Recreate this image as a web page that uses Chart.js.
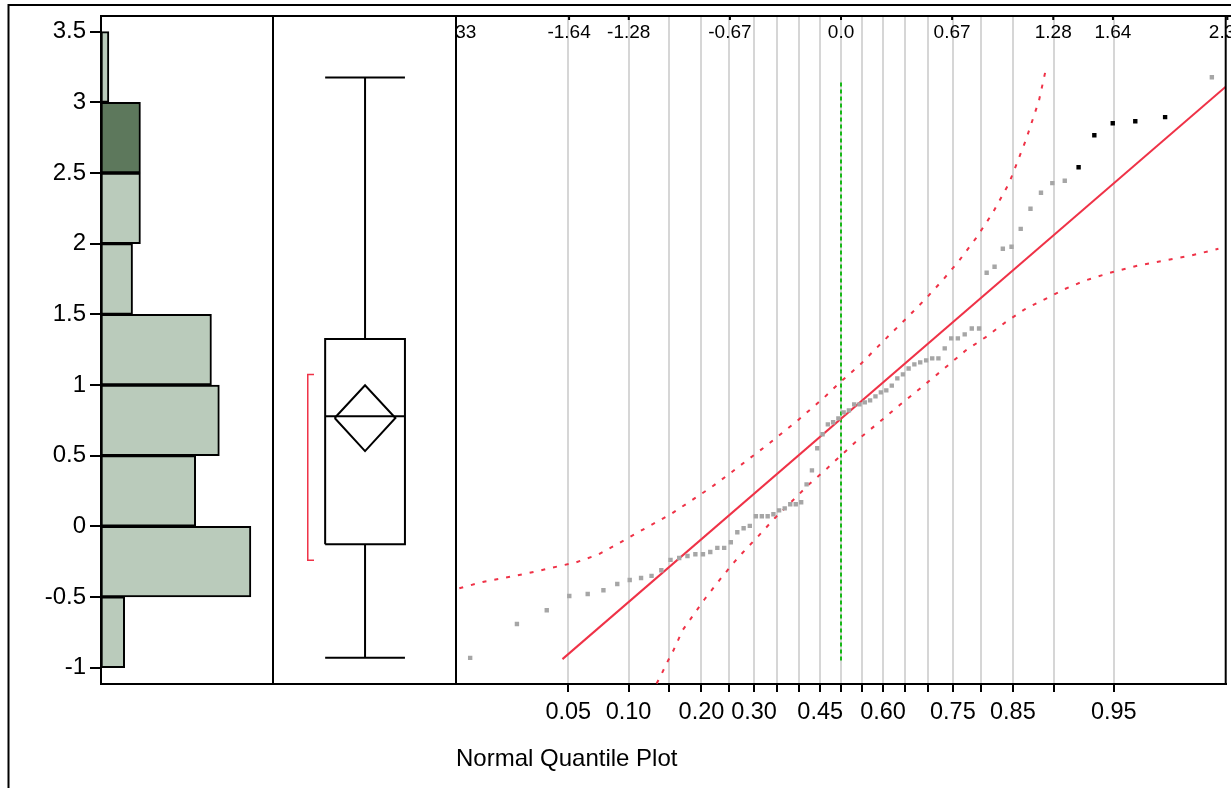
<!DOCTYPE html>
<html>
<head>
<meta charset="utf-8">
<script src="https://cdn.jsdelivr.net/npm/chart.js@4/dist/chart.umd.min.js"></script>
<style>
  html, body { margin: 0; padding: 0; background: #fff; overflow: hidden; }
  #wrap { position: relative; width: 1231px; height: 788px; }
</style>
</head>
<body>
<div id="wrap"><canvas id="dist" width="1231" height="788"></canvas></div>
<script>
// Histogram (value axis is vertical)
const binCenters = [-0.75, -0.25, 0.25, 0.75, 1.25, 1.75, 2.25, 2.75, 3.25];
const binCounts = [3, 19, 12, 15, 14, 4, 5, 5, 1];
const selectedBin = [2.5, 3.0];
const yTicks = [-1, -0.5, 0, 0.5, 1, 1.5, 2, 2.5, 3, 3.5];

// Outlier box plot
const whiskerEnds = [-0.931, 3.175];
const quartiles = [-0.127, 0.778, 1.325];      // Q1, median, Q3
const meanDiamond = [0.532, 0.766, 0.998];     // lower CI, mean, upper CI
const shortestHalf = [-0.240, 1.075];

// Normal quantile plot
const sortedValues = [
  -0.931, -0.691, -0.594, -0.493, -0.479, -0.453, -0.408, -0.380, -0.366, -0.351,
  -0.311, -0.238, -0.224, -0.210, -0.198, -0.198, -0.182, -0.153, -0.153, -0.113,
  -0.042, -0.014, 0.003, 0.071, 0.071, 0.071, 0.085, 0.113, 0.127, 0.156,
  0.156, 0.170, 0.297, 0.396, 0.552, 0.651, 0.721, 0.736, 0.764, 0.806,
  0.820, 0.863, 0.863, 0.877, 0.891, 0.919, 0.948, 0.962, 0.995, 1.047,
  1.075, 1.117, 1.146, 1.160, 1.174, 1.188, 1.188, 1.259, 1.330, 1.330,
  1.358, 1.400, 1.400, 1.794, 1.837, 1.964, 1.978, 2.105, 2.247, 2.360,
  2.428, 2.445, 2.541, 2.767, 2.852, 2.866, 2.895, 3.178
];
const probTicks = [0.05, 0.10, 0.15, 0.20, 0.25, 0.30, 0.35, 0.40, 0.45, 0.50,
  0.55, 0.60, 0.65, 0.70, 0.75, 0.80, 0.85, 0.90, 0.95];
const probLabels = ['0.05', '0.10', '0.20', '0.30', '0.45', '0.60', '0.75', '0.85', '0.95'];
const quantileTicks = [-2.33, -1.64, -1.28, -0.67, 0, 0.67, 1.28, 1.64, 2.33];
const quantileLabels = ['-2.33', '-1.64', '-1.28', '-0.67', '0.0', '0.67', '1.28', '1.64', '2.33'];
const fitLine = [[-1.68, -0.94], [2.32, 3.11]];
const centerLine = [[0, -0.95], [0, 3.16]];
const upperBand = [
  [-2.302, -0.438], [-2.161, -0.394], [-2.020, -0.363], [-1.880, -0.330], [-1.739, -0.292],
  [-1.598, -0.255], [-1.461, -0.198], [-1.337, -0.118], [-1.220, -0.040], [-1.021, 0.090],
  [-0.900, 0.184], [-0.780, 0.278], [-0.663, 0.380], [-0.549, 0.483], [-0.434, 0.585],
  [-0.321, 0.693], [-0.265, 0.745], [-0.099, 0.914], [0.0, 1.025], [0.111, 1.139],
  [0.212, 1.259], [0.310, 1.374], [0.412, 1.492], [0.512, 1.612], [0.612, 1.740],
  [0.713, 1.881], [0.813, 2.037], [0.913, 2.214], [1.013, 2.426], [1.114, 2.730],
  [1.194, 3.013], [1.238, 3.248]
];
const lowerBand = [
  [-1.112, -1.113], [-1.081, -1.042], [-1.042, -0.948], [-1.015, -0.889], [-0.955, -0.735],
  [-0.824, -0.518], [-0.734, -0.382], [-0.644, -0.253], [-0.595, -0.189], [-0.496, -0.066],
  [-0.400, 0.057], [-0.296, 0.177], [-0.193, 0.297], [-0.086, 0.408], [0.018, 0.521],
  [0.121, 0.632], [0.232, 0.738], [0.352, 0.856], [0.512, 1.009], [0.633, 1.127],
  [0.753, 1.245], [0.873, 1.339], [0.993, 1.445], [1.114, 1.540], [1.234, 1.610],
  [1.354, 1.681], [1.474, 1.740], [1.634, 1.798], [1.795, 1.846], [1.956, 1.881],
  [2.115, 1.917], [2.276, 1.964]
];

// inverse normal CDF (Acklam) for the probability axis and normal scores
function normInv(p) {
  const a = [-39.69683028665376, 220.9460984245205, -275.9285104469687, 138.3577518672690, -30.66479806614716, 2.506628277459239];
  const b = [-54.47609879822406, 161.5858368580409, -155.6989798598866, 66.80131188771972, -13.28068155288572];
  const c = [-0.007784894002430293, -0.3223964580411365, -2.400758277161838, -2.549732539343734, 4.374664141464968, 2.938163982698783];
  const d = [0.007784695709041462, 0.3224671290700398, 2.445134137142996, 3.754408661907416];
  const pl = 0.02425;
  let q, r;
  if (p < pl) {
    q = Math.sqrt(-2 * Math.log(p));
    return (((((c[0]*q+c[1])*q+c[2])*q+c[3])*q+c[4])*q+c[5]) / ((((d[0]*q+d[1])*q+d[2])*q+d[3])*q+1);
  }
  if (p > 1 - pl) {
    q = Math.sqrt(-2 * Math.log(1 - p));
    return -(((((c[0]*q+c[1])*q+c[2])*q+c[3])*q+c[4])*q+c[5]) / ((((d[0]*q+d[1])*q+d[2])*q+d[3])*q+1);
  }
  q = p - 0.5; r = q * q;
  return (((((a[0]*r+a[1])*r+a[2])*r+a[3])*r+a[4])*r+a[5])*q / (((((b[0]*r+b[1])*r+b[2])*r+b[3])*r+b[4])*r+1);
}

const FONT = '"Liberation Sans", Arial, sans-serif';
Chart.defaults.font.family = FONT;
Chart.defaults.color = '#000';

const RED = '#ef3247';
const GREEN = '#16b816';
const LIGHT = '#bacbbb';
const DARK = '#5d785c';
const GRAY = '#a6a6a6';
const Y_MIN = -1.116, Y_MAX = 3.611;

// box panel layout (fractions of the panel width)
const BOX_C = 0.503, BOX_HW = 0.218, DIA_HW = 0.166, BR_X = 0.19, BR_END = 0.224;

const pts = arr => arr.map(p => ({ x: p[0], y: p[1] }));
function line(data, axis, color, width, extra) {
  return Object.assign({
    type: 'line', data, xAxisID: axis, yAxisID: 'y',
    borderColor: color, borderWidth: width, pointRadius: 0, fill: false, tension: 0
  }, extra || {});
}

const n = sortedValues.length;
const inSel = v => v >= selectedBin[0] && v < selectedBin[1];

const datasets = [
  // quantile points
  {
    type: 'scatter', xAxisID: 'xq', yAxisID: 'y',
    data: sortedValues.map((v, i) => ({ x: normInv((i + 1) / (n + 1)), y: v })),
    pointStyle: 'rect', pointRadius: 3.1, pointBorderWidth: 0,
    pointBackgroundColor: sortedValues.map(v => inSel(v) ? '#000' : GRAY)
  },
  line(pts(fitLine), 'xq', RED, 2),
  line(pts(upperBand), 'xq', RED, 2, { borderDash: [4, 8] }),
  line(pts(lowerBand), 'xq', RED, 2, { borderDash: [4, 8] }),
  line(pts(centerLine), 'xq', GREEN, 2, { borderDash: [4, 3] }),

  // box plot
  line([
    { x: BOX_C - BOX_HW, y: quartiles[0] }, { x: BOX_C + BOX_HW, y: quartiles[0] },
    { x: BOX_C + BOX_HW, y: quartiles[2] }, { x: BOX_C - BOX_HW, y: quartiles[2] },
    { x: BOX_C - BOX_HW, y: quartiles[0] }
  ], 'xb', '#000', 2),
  line([{ x: BOX_C - BOX_HW, y: quartiles[1] }, { x: BOX_C + BOX_HW, y: quartiles[1] }], 'xb', '#000', 2),
  line([{ x: BOX_C, y: quartiles[2] }, { x: BOX_C, y: whiskerEnds[1] }], 'xb', '#000', 2),
  line([{ x: BOX_C, y: quartiles[0] }, { x: BOX_C, y: whiskerEnds[0] }], 'xb', '#000', 2),
  line([{ x: BOX_C - BOX_HW, y: whiskerEnds[1] }, { x: BOX_C + BOX_HW, y: whiskerEnds[1] }], 'xb', '#000', 2),
  line([{ x: BOX_C - BOX_HW, y: whiskerEnds[0] }, { x: BOX_C + BOX_HW, y: whiskerEnds[0] }], 'xb', '#000', 2),
  line([
    { x: BOX_C - DIA_HW, y: meanDiamond[1] }, { x: BOX_C, y: meanDiamond[2] },
    { x: BOX_C + DIA_HW, y: meanDiamond[1] }, { x: BOX_C, y: meanDiamond[0] },
    { x: BOX_C - DIA_HW, y: meanDiamond[1] }
  ], 'xb', '#000', 2),
  line([
    { x: BR_END, y: shortestHalf[1] }, { x: BR_X, y: shortestHalf[1] },
    { x: BR_X, y: shortestHalf[0] }, { x: BR_END, y: shortestHalf[0] }
  ], 'xb', RED, 1.5),

  // histogram, on its own (hidden) copy of the value axis
  {
    type: 'bar', indexAxis: 'y', xAxisID: 'xh', yAxisID: 'yh', grouped: false,
    data: binCenters.map((c, i) => ({ x: binCounts[i], y: c })),
    backgroundColor: binCenters.map(c => inSel(c) ? DARK : LIGHT),
    borderColor: '#000', borderWidth: 2, borderSkipped: false,
    barPercentage: 1, categoryPercentage: 1
  }
];

const fixHeight = s => { s.height = 104; };
const setYTicks = s => { s.ticks = yTicks.map(v => ({ value: v })); };
const panelAxis = (weight, min, max) => ({
  type: 'linear', position: 'bottom', stack: 'panels', stackWeight: weight,
  min, max, offset: false,
  grid: { display: false, offset: false },
  border: { display: true, color: '#000', width: 2 },
  ticks: { display: false },
  afterFit: fixHeight
});

const framePlugin = {
  id: 'frame',
  afterDatasetsDraw(chart) {
    const { ctx, chartArea: a, scales } = chart;
    const xq = scales.xq;
    ctx.save();
    ctx.strokeStyle = '#000';
    ctx.lineWidth = 2;
    ctx.beginPath();
    ctx.moveTo(8.5, 788); ctx.lineTo(8.5, 5); ctx.lineTo(1231, 5);
    ctx.moveTo(a.left, a.top); ctx.lineTo(1231, a.top);
    [scales.xb.left, xq.left, xq.right].forEach(x => {
      ctx.moveTo(x, a.top); ctx.lineTo(x, a.bottom);
    });
    ctx.stroke();

    // normal quantile labels along the top edge
    ctx.beginPath();
    ctx.rect(xq.left + 1, a.top, 1231 - xq.left, 40);
    ctx.clip();
    ctx.font = '19px ' + FONT;
    ctx.fillStyle = '#000';
    ctx.textAlign = 'center';
    ctx.textBaseline = 'middle';
    quantileTicks.forEach((z, i) => {
      const x = xq.getPixelForValue(z);
      ctx.fillRect(x - 1, a.top, 2, 4);
      ctx.fillText(quantileLabels[i], x, a.top + 17);
    });
    ctx.restore();
  }
};

new Chart(document.getElementById('dist'), {
  type: 'scatter',
  data: { datasets },
  options: {
    responsive: false,
    animation: false,
    events: [],
    devicePixelRatio: 1,
    layout: { padding: { top: 15.3, right: 5.3, left: 0, bottom: 0 } },
    plugins: { legend: { display: false }, tooltip: { enabled: false } },
    scales: {
      xh: panelAxis(172, 0, 21.8),
      xb: panelAxis(183, 0, 1),
      xq: {
        type: 'linear', position: 'bottom', stack: 'panels', stackWeight: 769.7,
        min: -2.322, max: 2.32, offset: false,
        afterBuildTicks: s => { s.ticks = probTicks.map(p => ({ value: normInv(p) })); },
        afterFit: fixHeight,
        grid: { color: '#d6d6d6', lineWidth: 2, tickColor: '#000', tickLength: 8, tickWidth: 2, offset: false },
        border: { display: true, color: '#000', width: 2 },
        ticks: {
          autoSkip: false, maxRotation: 0, minRotation: 0, padding: 6,
          font: { size: 23.5 },
          callback: (v, i) => {
            const p = probTicks[i].toFixed(2);
            return probLabels.includes(p) ? p : '';
          }
        },
        title: {
          display: true, text: 'Normal Quantile Plot', align: 'start',
          font: { size: 24 }, padding: { top: 0, bottom: 14 }
        }
      },
      y: {
        type: 'linear', position: 'left',
        min: Y_MIN, max: Y_MAX, offset: false,
        afterBuildTicks: setYTicks,
        afterFit: s => { s.width = 101; },
        grid: { drawOnChartArea: false, offset: false, tickLength: 11, tickColor: '#000', lineWidth: 2 },
        border: { display: true, color: '#000', width: 2 },
        ticks: { padding: 4, font: { size: 24, lineHeight: 1 }, callback: v => String(v) }
      },
      yh: {
        type: 'linear', position: 'left', display: false,
        min: Y_MIN, max: Y_MAX, offset: false,
        afterBuildTicks: setYTicks,
        grid: { offset: false }
      }
    }
  },
  plugins: [framePlugin]
});
</script>
</body>
</html>
